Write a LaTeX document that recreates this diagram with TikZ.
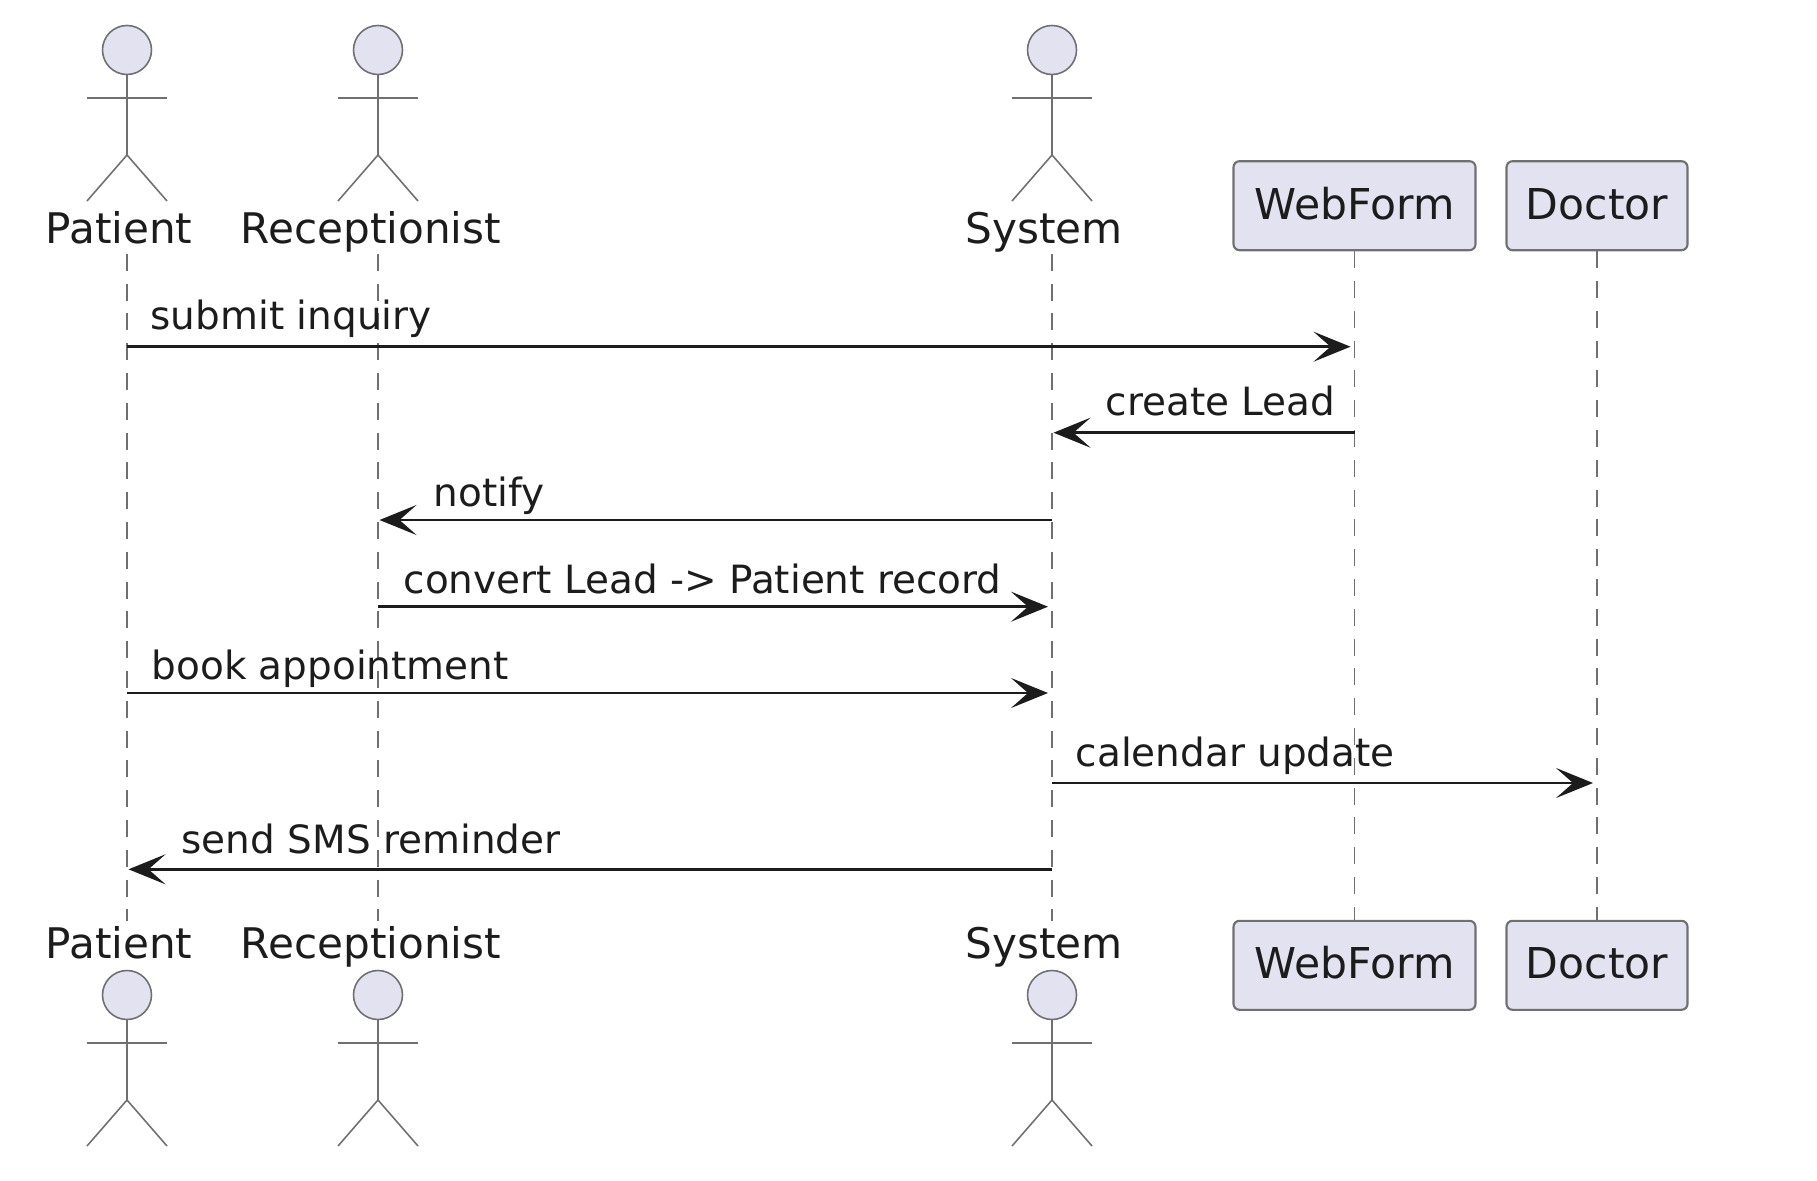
\documentclass[tikz,border=0pt]{standalone}
\usepackage{fontspec}
\setmainfont{DejaVu Sans}
\usetikzlibrary{arrows.meta}
\definecolor{umlfill}{HTML}{E2E2F0}
\definecolor{umlline}{HTML}{707070}
\definecolor{umltext}{HTML}{1C1C1C}

\begin{document}
\begin{tikzpicture}[
    text=umltext,
    head/.style={circle, draw=umlline, fill=umlfill, line width=0.45pt, minimum size=0.49cm, inner sep=0pt, outer sep=0pt},
    limb/.style={draw=umlline, line width=0.45pt},
    stickman/.pic={
        \node[head] (-head) at (0, 0) {};
        \draw[limb] (-head.south) -- (0, -1.05);
        \draw[limb] (-0.40, -0.48) -- (0.40, -0.48);
        \draw[limb] (-0.40, -1.51) -- (0, -1.05) -- (0.40, -1.51);
    },
    actorname/.style={anchor=base, inner sep=0pt, text height=0.36cm, text depth=0.09cm, font=\fontsize{12}{14}\selectfont},
    box/.style={rectangle, draw=umlline, fill=umlfill, line width=0.6pt, rounded corners=0.06cm, minimum height=0.89cm, inner sep=0pt, text height=0.32cm, text depth=0.05cm, font=\fontsize{12.1}{14}\selectfont},
    lifeline/.style={draw=umlline, line width=0.45pt, dash pattern=on 0.17cm off 0.128cm},
    arrow/.style={-{Stealth[length=0.37cm, width=0.30cm, inset=0.17cm]}, line width=0.75pt, draw=umltext, shorten >=0.015cm},
    arrowright/.style={arrow, shorten >=0.04cm},
    msgtext/.style={anchor=base west, inner sep=0pt, font=\fontsize{11.08}{13}\selectfont}
]
\useasboundingbox (0, 0) rectangle (18.17, 11.80);

% Actors on top
\pic (patienthigh) at (1.27, 11.30) {stickman};
\pic (receptionisthigh) at (3.78, 11.30) {stickman};
\pic (systemhigh) at (10.52, 11.30) {stickman};
\node[actorname] (patienttop) at (1.19, 9.36) {Patient};
\node[actorname] (receptionisttop) at (3.71, 9.36) {Receptionist};
\node[actorname] (systemtop) at (10.44, 9.36) {System};
\node[box, minimum width=2.42cm] (webformtop) at (13.545, 9.743) {WebForm};
\node[box, minimum width=1.81cm] (doctortop) at (15.97, 9.743) {Doctor};

% Actors at the bottom
\pic (patientlow) at (1.27, 1.85) {stickman};
\pic (receptionistlow) at (3.78, 1.85) {stickman};
\pic (systemlow) at (10.52, 1.85) {stickman};
\node[actorname] (patientbot) at (1.19, 2.22) {Patient};
\node[actorname] (receptionistbot) at (3.71, 2.22) {Receptionist};
\node[actorname] (systembot) at (10.44, 2.22) {System};
\node[box, minimum width=2.42cm] (webformbot) at (13.545, 2.147) {WebForm};
\node[box, minimum width=1.81cm] (doctorbot) at (15.97, 2.147) {Doctor};

% Lifelines
\draw[lifeline] (patienthigh-head |- patienttop.south) -- (patienthigh-head |- patientbot.north);
\draw[lifeline] (receptionisthigh-head |- receptionisttop.south) -- (receptionisthigh-head |- receptionistbot.north);
\draw[lifeline] (systemhigh-head |- systemtop.south) -- (systemhigh-head |- systembot.north);
\draw[lifeline] (webformtop) -- (webformbot);
\draw[lifeline] (doctortop) -- (doctorbot);

% Message rows
\coordinate (row1) at (0, 8.333);
\coordinate (row2) at (0, 7.473);
\coordinate (row3) at (0, 6.60);
\coordinate (row4) at (0, 5.733);
\coordinate (row5) at (0, 4.87);
\coordinate (row6) at (0, 3.97);
\coordinate (row7) at (0, 3.107);

% Messages
\draw[arrowright] (patienthigh-head |- row1) -- (webformtop |- row1);
\draw[arrow] (webformtop |- row2) -- (systemhigh-head |- row2);
\draw[arrow] (systemhigh-head |- row3) -- (receptionisthigh-head |- row3);
\draw[arrowright] (receptionisthigh-head |- row4) -- (systemhigh-head |- row4);
\draw[arrowright] (patienthigh-head |- row5) -- (systemhigh-head |- row5);
\draw[arrowright] (systemhigh-head |- row6) -- (doctortop |- row6);
\draw[arrow] (systemhigh-head |- row7) -- (patienthigh-head |- row7);

% Message labels
\node[msgtext] (submit) at (1.50, 8.51) {submit inquiry};
\node[msgtext] (create) at (11.05, 7.64) {create Lead};
\node[msgtext] (notify) at (4.33, 6.74) {notify};
\node[msgtext] (convert) at (4.03, 5.87) {convert Lead -> Patient record};
\node[msgtext] (book) at (1.51, 5.01) {book appointment};
\node[msgtext] (calendar) at (10.75, 4.14) {calendar update};
\node[msgtext] (reminder) at (1.81, 3.27) {send SMS reminder};

\end{tikzpicture}
\end{document}
